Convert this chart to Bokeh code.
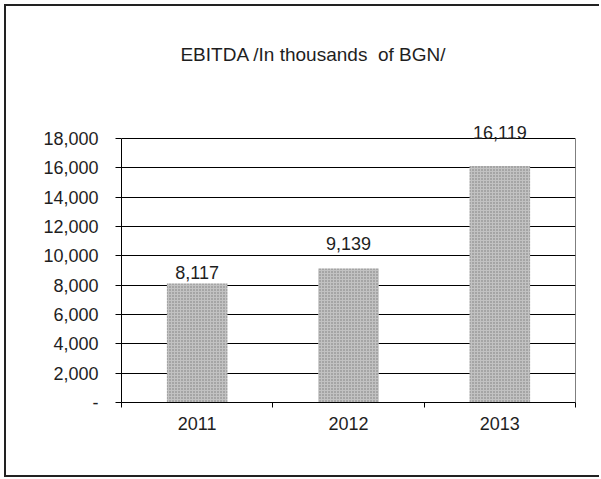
from bokeh.plotting import figure
from bokeh.models import FixedTicker, NumeralTickFormatter, ColumnDataSource, Range1d, LabelSet, Label
from bokeh.core.properties import value
from bokeh.embed import file_html
from bokeh.resources import INLINE

title_text = "EBITDA /In thousands\u00a0 of BGN/"
years = ["2011", "2012", "2013"]
ebitda = [8117, 9139, 16119]
y_ticks = list(range(0, 18001, 2000))
label_texts = [f"{v:,}" for v in ebitda]
label_offsets = [4, 18, 27]

xs = [i + 0.5 for i in range(len(years))]
src = ColumnDataSource(dict(x=xs, top=ebitda, text=label_texts, off=label_offsets))

FONT = "Liberation Sans"
INK = "#1e1e1e"
y_max = max(y_ticks)
y_end = 27000  # headroom so the title and top label sit inside the frame

p = figure(width=595, height=473, output_backend="svg", toolbar_location=None,
           x_range=Range1d(0, len(years)), y_range=Range1d(0, y_end),
           min_border_left=115, min_border_right=26, min_border_top=0, min_border_bottom=77)
p.margin = (4, 0, 0, 4)

p.background_fill_color = "white"
p.border_fill_color = "white"
p.outline_line_color = None

p.vbar(x="x", top="top", width=0.4, bottom=0, source=src,
       fill_color="#c2c2c2", line_color=None,
       hatch_pattern="dot", hatch_color="#444444", hatch_scale=3, hatch_alpha=0.6)

# right edge of the plot area
p.segment(x0=[len(years)], y0=[0], x1=[len(years)], y1=[y_max], line_color="black", line_width=1)

labels = LabelSet(x="x", y="top", text="text", source=src, y_offset="off",
                  text_align="center", text_baseline="bottom",
                  text_font=value(FONT), text_font_size="18px", text_color=INK)
p.add_layout(labels)

title = Label(x=len(years) / 2, y=y_end, x_offset=-35, y_offset=-48, text=title_text,
              text_align="center", text_baseline="middle",
              text_font=FONT, text_font_size="19px", text_color=INK)
p.add_layout(title)

yax = p.yaxis[0]
yax.ticker = FixedTicker(ticks=y_ticks, minor_ticks=[])
yax.bounds = (0, y_max)
yax.formatter = NumeralTickFormatter(format="0,0")
yax.major_label_overrides = {0: "-"}
yax.major_tick_in = 0
yax.major_tick_out = 6
yax.minor_tick_in = 0
yax.minor_tick_out = 0
yax.axis_line_color = "black"
yax.major_tick_line_color = "black"
yax.major_label_text_font = FONT
yax.major_label_text_font_size = "18px"
yax.major_label_text_color = INK
yax.major_label_standoff = 17

xax = p.xaxis[0]
xax.ticker = FixedTicker(ticks=xs, minor_ticks=list(range(len(years) + 1)))
xax.major_label_overrides = {x: y for x, y in zip(xs, years)}
xax.major_tick_in = 0
xax.major_tick_out = 0
xax.minor_tick_in = 0
xax.minor_tick_out = 5
xax.minor_tick_line_color = "black"
xax.axis_line_color = "black"
xax.major_label_text_font = FONT
xax.major_label_text_font_size = "18px"
xax.major_label_text_color = INK
xax.major_label_standoff = 9

p.xgrid.grid_line_color = None
p.ygrid.grid_line_color = "black"
p.ygrid.grid_line_width = 1
p.ygrid.ticker = FixedTicker(ticks=y_ticks)

p.styles = {"border-left": "2px solid #222", "border-top": "2px solid #222",
            "border-bottom": "2px solid #222", "box-sizing": "border-box"}

open("out.html", "w").write(file_html(p, INLINE))
